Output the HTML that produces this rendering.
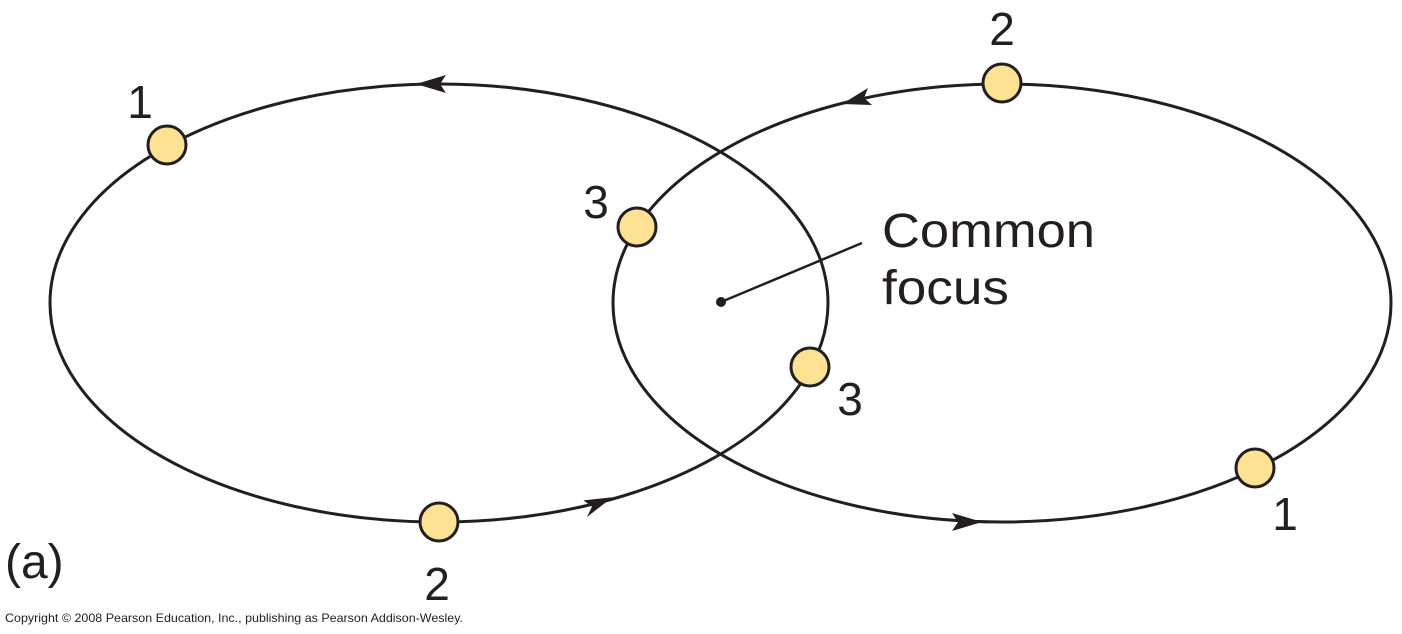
<!DOCTYPE html>
<html><head><meta charset="utf-8"><style>
html,body{margin:0;padding:0;background:#fff;}
svg{display:block;}
text{font-family:"Liberation Sans",sans-serif;fill:#231f20;}
</style></head><body>
<svg width="1402" height="634" viewBox="0 0 1402 634">
<g fill="none" stroke="#231f20" stroke-width="3">
<ellipse cx="439" cy="303" rx="389" ry="219"/>
<ellipse cx="1002" cy="303" rx="389" ry="219"/>
<line x1="721" y1="302" x2="862" y2="243" stroke-width="2.5"/>
</g>
<circle cx="721" cy="302" r="5" fill="#231f20"/>
<g fill="#231f20">
<polygon points="416,84 446,75 440,84 446,93"/>
<polygon points="614,500 585,514 592,505 585,497" transform="rotate(-12 600 506)"/>
<polygon points="842,104 868,88 864,98 872,105"/>
<polygon points="982,522 952,513 958,522 952,531"/>
</g>
<g fill="#fde293" stroke="#231f20" stroke-width="3">
<circle cx="167" cy="145" r="19"/>
<circle cx="439" cy="522" r="19"/>
<circle cx="637" cy="227" r="19"/>
<circle cx="810" cy="367" r="19"/>
<circle cx="1002" cy="83" r="19"/>
<circle cx="1255" cy="468" r="19"/>
</g>
<g font-size="46">
<text x="140" y="118" text-anchor="middle">1</text>
<text x="437" y="600" text-anchor="middle">2</text>
<text x="596" y="218" text-anchor="middle">3</text>
<text x="850" y="415" text-anchor="middle">3</text>
<text x="1002" y="45" text-anchor="middle">2</text>
<text x="1285" y="530" text-anchor="middle">1</text>
<text x="882" y="247" font-size="48" textLength="213" lengthAdjust="spacingAndGlyphs">Common</text>
<text x="882" y="304" font-size="48" textLength="127" lengthAdjust="spacingAndGlyphs">focus</text>
<text x="5" y="578" font-size="48">(a)</text>
</g>
<text x="5" y="622" font-size="12" textLength="458" lengthAdjust="spacingAndGlyphs">Copyright © 2008 Pearson Education, Inc., publishing as Pearson Addison-Wesley.</text>
</svg>
</body></html>
